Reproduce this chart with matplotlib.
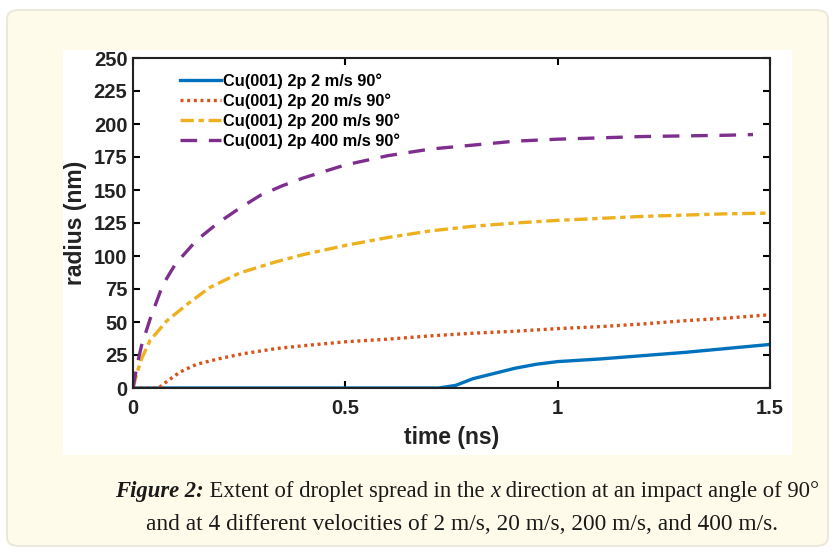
import matplotlib
matplotlib.use("Agg")
from matplotlib import pyplot as plt
from matplotlib.patches import FancyBboxPatch, Rectangle

# values (time in ns, radius in nm)
t_2 = [0, 0.72, 0.76, 0.8, 0.85, 0.9, 0.95, 1.0, 1.1, 1.2, 1.3, 1.4, 1.5]
r_2 = [0, 0, 2, 7, 11, 15, 18, 20, 22, 24.5, 27, 30, 33]

t_20 = [0, 0.03, 0.06, 0.08, 0.11, 0.15, 0.2, 0.26, 0.34, 0.4, 0.5, 0.6, 0.7,
        0.8, 0.9, 1.0, 1.1, 1.2, 1.3, 1.4, 1.5]
r_20 = [0, 0, 0, 5, 12, 18, 22, 26, 30, 32, 35, 37, 39.5,
        41.5, 43, 45, 46.5, 48.5, 51, 53, 55.5]

t_200 = [0, 0.01, 0.02, 0.04, 0.08, 0.13, 0.18, 0.25, 0.33, 0.4, 0.5, 0.6, 0.7,
         0.8, 0.9, 1.0, 1.1, 1.2, 1.3, 1.4, 1.5]
r_200 = [0, 12, 22, 36, 51, 64, 76, 87, 95, 101, 108, 114, 119,
         122.5, 125, 127, 128.5, 130, 131, 132, 132.5]

t_400 = [0, 0.01, 0.02, 0.04, 0.07, 0.1, 0.15, 0.2, 0.25, 0.3, 0.35, 0.4, 0.5,
         0.6, 0.7, 0.8, 0.9, 1.0, 1.1, 1.2, 1.3, 1.4, 1.46]
r_400 = [0, 18, 32, 52, 78, 94, 112, 125, 136, 146, 153, 159, 169,
         176, 181, 184, 187, 188.5, 189.5, 190.5, 191, 191.5, 192]

labels = ["Cu(001) 2p 2 m/s 90°", "Cu(001) 2p 20 m/s 90°",
          "Cu(001) 2p 200 m/s 90°", "Cu(001) 2p 400 m/s 90°"]
xticks = [0, 0.5, 1, 1.5]
xticklabels = ["0", "0.5", "1", "1.5"]
yticks = list(range(0, 251, 25))

# caption pieces: (text, weight, style)
caption_1 = [("Figure 2:", "bold", "italic"),
             (" Extent of droplet spread in the ", "normal", "normal"),
             ("x", "normal", "italic"),
             (" direction at an impact angle of 90°", "normal", "normal")]
caption_2 = "and at 4 different velocities of 2 m/s, 20 m/s, 200 m/s, and 400 m/s."

W, H = 835, 556
fig = plt.figure(figsize=(W / 100, H / 100), dpi=100)
fig.patch.set_facecolor("white")

# cream card with rounded border
card = FancyBboxPatch((7 / W, 10 / H), 821 / W, 536 / H,
                      boxstyle="round,pad=0,rounding_size=0.015",
                      transform=fig.transFigure, facecolor="#fffbea",
                      edgecolor="#ece9dc", linewidth=1.5, zorder=-2)
fig.patches.append(card)
# white panel behind the plot
panel = Rectangle((63 / W, 1 - 455 / H), 729 / W, 405 / H,
                  transform=fig.transFigure, facecolor="white",
                  edgecolor="none", zorder=-1)
fig.patches.append(panel)

ax = fig.add_axes([133 / W, 1 - 388 / H, 637 / W, 330 / H])
ax.set_zorder(2)
ax.set_facecolor("white")

ax.plot(t_2, r_2, color="#0072BD", lw=2.4, ls="-", label=labels[0])
ax.plot(t_20, r_20, color="#D95319", lw=2.4, ls=(0, (0.9, 1.1)), label=labels[1])
ax.plot(t_200, r_200, color="#EDB120", lw=2.4, ls=(0, (4, 1.4, 1.6, 1.4)), label=labels[2])
ax.plot(t_400, r_400, color="#7E2F8E", lw=2.4, ls=(0, (5, 3.5)), label=labels[3])

ax.set_xlim(0, 1.5)
ax.set_ylim(0, 250)
ax.set_xticks(xticks)
ax.set_xticklabels(xticklabels)
ax.set_yticks(yticks)
ax.tick_params(direction="in", length=5, width=1.5, top=True, right=True,
               labelsize=14.5, colors="black")
ax.tick_params(axis="x", pad=8)
ax.tick_params(axis="y", pad=4)
for lab in ax.get_xticklabels() + ax.get_yticklabels():
    lab.set_fontweight("bold")
    lab.set_family("Liberation Sans")
    lab.set_color("#222222")
for s in ax.spines.values():
    s.set_linewidth(1.5)
    s.set_color("#222222")

ax.set_xlabel("time (ns)", fontsize=16.5, fontweight="bold",
              family="Liberation Sans", color="#222222", labelpad=6)
ax.set_ylabel("radius (nm)", fontsize=16.5, fontweight="bold",
              family="Liberation Sans", color="#222222", labelpad=5)

leg = ax.legend(loc="upper left", bbox_to_anchor=(0.074, 0.953), frameon=False,
                prop={"family": "Liberation Sans", "weight": "bold", "size": 11.8},
                handlelength=2.5, handletextpad=0.1, labelspacing=0.26,
                borderpad=0, borderaxespad=0)

# caption laid out piece by piece so the mixed styles sit on one line
cap_font = "Liberation Serif"
fig.canvas.draw()
r = fig.canvas.get_renderer()
pieces = []
for txt, wt, st in caption_1:
    t = fig.text(0, 1 - 497 / H, txt, fontsize=16.3, family=cap_font,
                 fontweight=wt, fontstyle=st, color="#1a1a1a")
    pieces.append((t, t.get_window_extent(r).width))
total = sum(w for _, w in pieces)
x = 467 - total / 2
for t, w in pieces:
    t.set_x(x / W)
    x += w
fig.text(462 / W, 1 - 530 / H, caption_2, fontsize=16.8, family=cap_font,
         color="#1a1a1a", ha="center")

fig.savefig("out.png", dpi=100)
